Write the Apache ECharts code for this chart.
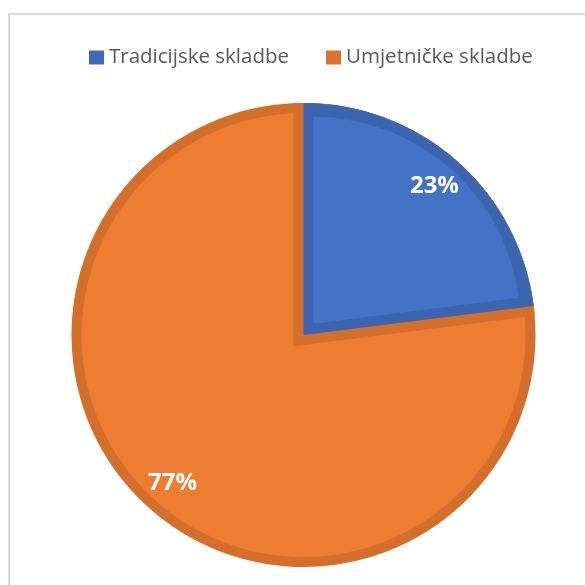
<!DOCTYPE html>
<html>
<head>
<meta charset="utf-8">
<script src="https://cdn.jsdelivr.net/npm/echarts@6/dist/echarts.min.js"></script>
<style>
  html, body { margin: 0; padding: 0; background: #fff; }
  #frame { position: absolute; left: 8px; top: 13px; width: 620px; height: 620px; border: 2px solid #dcdcdc; }
  #chart { position: absolute; left: 0; top: 0; width: 585px; height: 585px; }
</style>
</head>
<body>
<div id="frame"></div>
<div id="chart"></div>
<script>
// podaci
const categories = ['Tradicijske skladbe', 'Umjetničke skladbe'];
const shares = [23, 77];

// boje (ispuna + tamniji rub kao u Excelu)
const fillColors = ['#4472C4', '#ED7D31'];
const edgeColors = ['#3B65B0', '#D46F2B'];

const center = [303.5, 335];
const outerR = 232;
const band = 10; // širina tamnog ruba, crta se prema unutra

const total = shares.reduce((a, b) => a + b, 0);

// jedan sloj pite; style(i) vraća itemStyle za krišku i
const layer = (radius, style, extra) => Object.assign({
  type: 'pie',
  center: center,
  radius: radius,
  startAngle: 90,
  silent: true,
  animation: false,
  label: { show: false },
  labelLine: { show: false },
  emphasis: { disabled: true },
  data: categories.map((name, i) => ({ name, value: shares[i], itemStyle: style(i) }))
}, extra || {});

const none = { color: 'transparent', borderWidth: 0 };

// plava kriška uvučena za širinu ruba (pomak središta po simetrali)
const half = Math.PI * shares[0] / total;
const shift = band / Math.sin(half);
const innerCenter = [center[0] + shift * Math.sin(half), center[1] - shift * Math.cos(half)];

const chart = echarts.init(document.getElementById('chart'));
chart.setOption({
  animation: false,
  legend: {
    left: 84,
    top: 42,
    itemWidth: 15,
    itemHeight: 14,
    itemGap: 37,
    icon: 'rect',
    selectedMode: false,
    textStyle: { fontFamily: 'Open Sans', fontSize: 20.5, color: '#595959' },
    data: categories.map((name, i) => ({ name, itemStyle: { color: i === 0 ? '#4169B8' : '#DA722C' } }))
  },
  series: [
    // tamna podloga (vanjski rub)
    layer(outerR, i => ({ color: edgeColors[i], borderWidth: 0 })),
    // svijetla narančasta ispuna
    layer(outerR - band, i => (i === 1 ? { color: fillColors[1], borderWidth: 0 } : none)),
    // narančasti rub uz plavu krišku
    layer(outerR - band, i => (i === 0 ? { color: edgeColors[1], borderColor: edgeColors[1], borderWidth: band * 2, borderJoin: 'miter', borderMiterLimit: 10 } : none)),
    // tamni rub plave kriške
    layer(outerR, i => (i === 0 ? { color: edgeColors[0], borderWidth: 0 } : none)),
    // svijetla plava ispuna
    Object.assign(layer(outerR - band - shift, i => (i === 0 ? { color: fillColors[0], borderWidth: 0 } : none)), { center: innerCenter }),
    // postotci
    layer([158, outerR], () => none, {
      z: 10,
      label: {
        show: true,
        position: 'inside',
        formatter: '{d}%',
        color: '#fff',
        fontFamily: 'Open Sans',
        fontWeight: 'bold',
        fontSize: 24
      }
    })
  ]
});
</script>
</body>
</html>
